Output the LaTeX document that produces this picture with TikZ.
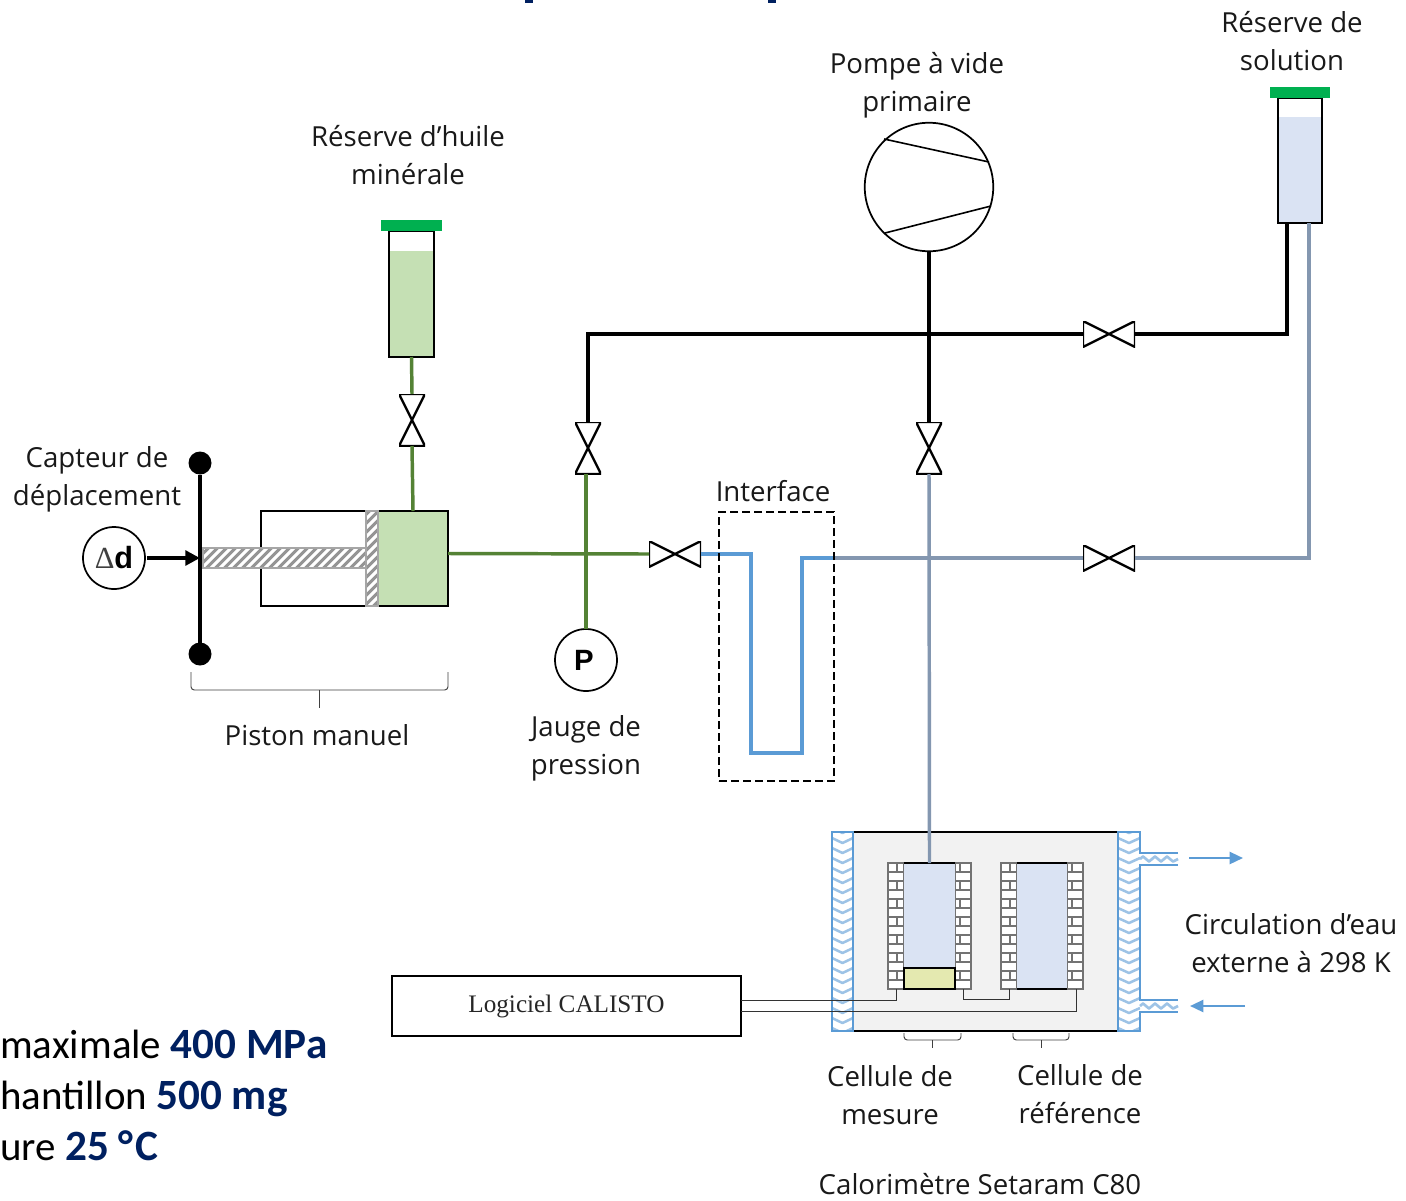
\documentclass[tikz,border=0pt]{standalone}
\usepackage{fontspec}
\setmainfont{Open Sans}
\newfontfamily\carl{Carlito}
\newfontfamily\serifl{Liberation Serif}
\newfontfamily\arial{Liberation Sans}
\usetikzlibrary{arrows.meta}
\definecolor{pipeblack}{HTML}{000000}
\definecolor{pipegreen}{HTML}{548235}
\definecolor{pipegrey}{HTML}{8497B0}
\definecolor{pipeblue}{HTML}{5B9BD5}
\definecolor{oilgreen}{HTML}{C5E0B4}
\definecolor{capgreen}{HTML}{00B050}
\definecolor{solblue}{HTML}{DAE3F3}
\definecolor{samplegreen}{HTML}{E4E9B0}
\definecolor{waveblue}{HTML}{9DC3E6}
\definecolor{navy}{HTML}{002060}
\tikzset{
  box/.style 2 args={shape=rectangle,minimum width=#1*0.75pt,minimum height=#2*0.75pt,inner sep=0pt,outer sep=0pt},
  blackpipe/.style={line width=2.8pt,draw=pipeblack},
  greenpipe/.style={line width=2.6pt,draw=pipegreen},
  greypipe/.style={line width=2.6pt,draw=pipegrey},
  bluepipe/.style={line width=2.6pt,draw=pipeblue},
  wire/.style={line width=0.6pt,draw=black!80},
  label/.style={font=\fontsize{20.7pt}{28.5pt}\selectfont,align=center,inner sep=0pt,text=black!90},
  valveh/.style={box={52}{26},path picture={
     \fill[white] (path picture bounding box.north west)--(path picture bounding box.south east)--(path picture bounding box.north east)--(path picture bounding box.south west)--cycle;
     \draw[line width=1.7pt,line join=miter] (path picture bounding box.north west)--(path picture bounding box.south east)--(path picture bounding box.north east)--(path picture bounding box.south west)--cycle;}},
  valvev/.style={box={26}{52},path picture={
     \fill[white] (path picture bounding box.north west)--(path picture bounding box.south east)--(path picture bounding box.south west)--(path picture bounding box.north east)--cycle;
     \draw[line width=1.7pt,line join=miter] (path picture bounding box.north west)--(path picture bounding box.south east)--(path picture bounding box.south west)--(path picture bounding box.north east)--cycle;}},
  hatch/.style={fill=white,draw=black!35,line width=2pt,path picture={
     \foreach \i in {-200,-191,...,200} \draw[black!42,line width=2.2pt] (\i,60)--(\i+120,-60);}},
  dot/.style={circle,fill=black,minimum size=23*0.75pt,inner sep=0pt,outer sep=0pt},
  ring/.style={circle,draw=black,fill=white,line width=1.3pt,minimum size=#1*0.75pt,inner sep=0pt,outer sep=0pt},
  brace/.style={line width=0.7pt,draw=black!75,rounded corners=2.5pt},
}
\newcommand\bricks[3]{% x0, x of the vertical joints, right edge
  \fill[white] (#1,863) rectangle (#3,989);
  \foreach \r in {0,...,13}{
    \draw[black!55,line width=1.7pt] (#1,863+9*\r)--(#3,863+9*\r);
    \ifodd\r\else\draw[black!55,line width=1.7pt] (#2,863+9*\r)--(#2,872+9*\r);\fi
  }
  \draw[black!55,line width=2.2pt] (#1,863) rectangle (#3,989);
}
\newcommand\chevrons[2]{% x0,x1
  \begin{scope}
    \clip (#1,833) rectangle (#2,1030);
    \foreach \k in {0,...,20}
      \draw[waveblue,line width=1.9pt,line join=round] (#1,828+10*\k)--({(#1+#2)/2},833+10*\k)--(#2,828+10*\k);
  \end{scope}
}
\newcommand\portwave[1]{% y centre
  \draw[waveblue,line width=2pt,line join=round] (1140,#1) foreach \k in {0,...,2} {-- (1143+12*\k,#1-2.5) -- (1149+12*\k,#1+2.5)} -- (1178,#1);
}
\newcommand\reg[1]{{\fontsize{30.7pt}{34pt}\selectfont\carl #1}}
\newcommand\hl[1]{{\fontsize{32.4pt}{34pt}\selectfont\carl\bfseries\color{navy}#1}}
\begin{document}
\begin{tikzpicture}[x=0.75pt,y=-0.75pt]
\useasboundingbox (0,0) rectangle (1406,1200);
\fill[white] (0,0) rectangle (1406,1200);
% cut-off remains of a title at the top edge
\fill[navy] (525,0) rectangle (533,3);
\fill[navy] (768,0) rectangle (776,3);

% === tanks ===
\node[box={45}{106},fill=oilgreen] (oilFill) at (411.5,304) {};
\node[box={45}{126},draw=black,line width=1.2pt] (oilTank) at (411.5,294) {};
\node[box={61}{11},fill=capgreen] (oilCap) at (411,225.5) {};
\node[box={44}{106},fill=solblue] (solFill) at (1300,170) {};
\node[box={44}{125},draw=black,line width=1.2pt] (solTank) at (1300,160.5) {};
\node[box={60}{11},fill=capgreen] (solCap) at (1300,92.5) {};

% === pump ===
\node[ring=128.5] (pump) at (929,187) {};
\draw[line width=1.2pt] (884,139)--(989,162);
\draw[line width=1.2pt] (885,233)--(991,206);

% === valves ===
\node[valvev] (vOil) at (412,420) {};
\node[valvev] (vLeft) at (588,448) {};
\node[valvev] (vCentre) at (929,448) {};
\node[valveh] (vTop) at (1109,334) {};
\node[valveh] (vSol) at (1109,558) {};
\node[valveh] (vGreen) at (675,554) {};

% === piston ===
\node[box={187}{95},draw=black,fill=white,line width=1.2pt] (cyl) at (354.5,558.5) {};
\node[box={70}{95},draw=black,fill=oilgreen,line width=1.2pt] (oilChamber) at (413,558.5) {};
\node[box={163}{20},hatch] (rod) at (284.5,558) {};
\node[box={12}{95},hatch] (plate) at (372,558.5) {};

% === displacement sensor ===
\node[dot] (dotTop) at (200,463) {};
\node[dot] (dotBot) at (200,654) {};
\draw[line width=2.6pt] (dotTop)--(dotBot);
\coordinate (barHit) at (200,558);
\node[ring=62] (dd) at (114,558) {\fontsize{23pt}{24pt}\selectfont{\serifl\textcolor{black!75}{Δ}}{\arial\bfseries d}};
\draw[line width=3.2pt,-{Triangle[length=11pt,width=11pt]}] (dd.east)++(2,0)--(barHit);

% === gauge ===
\node[ring=62] (gauge) at (586,660) {\fontsize{22pt}{24pt}\selectfont\arial\bfseries\hspace*{-3pt}P};

% === junctions ===
\coordinate (jTop) at (929,334);
\coordinate (jLeftCorner) at (588,334);
\coordinate (jRightCorner) at (1287,334);
\coordinate (solOutA) at (1287,223);
\coordinate (solOutB) at (1309,223);
\coordinate (jSolCorner) at (1309,558);
\coordinate (pistonOut) at (448,553.5);
\coordinate (jGreen) at (586,554);
\coordinate (uA) at (802,558);
\coordinate (uB) at (802,753);
\coordinate (uC) at (751,753);
\coordinate (uD) at (751,554);
\coordinate (uExit) at (835,558);
\coordinate (oilTop) at (413,511);

% === black lines ===
\draw[blackpipe] (pump.south)--(vCentre.north);
\draw[blackpipe,line join=miter] (jTop)--(jLeftCorner)--(vLeft.north);
\draw[blackpipe] (jTop)--(vTop.west);
\draw[blackpipe,line join=miter] (vTop.east)--(jRightCorner)--(solOutA);

% === green lines ===
\draw[greenpipe] (oilTank.south)--(vOil.north);
\draw[greenpipe] (vOil.south)--(oilTop);
\draw[greenpipe] (pistonOut)--(vGreen.west);
\draw[greenpipe] (vLeft.south -| gauge.north)--(gauge.north);

% === grey-blue lines ===
\draw[greypipe,line join=miter] (solOutB)--(jSolCorner)--(vSol.east);
\draw[greypipe] (vSol.west)--(uExit);

% === U tube ===
\draw[bluepipe,line join=miter] (uExit)--(uA)--(uB)--(uC)--(uD)--(vGreen.east);

% === interface ===
\node[box={115}{269},draw=black,line width=1.2pt,dash pattern=on 6pt off 3pt] (iface) at (776.5,646.5) {};

% === calorimeter ===
\node[box={265}{199},fill=black!5] (calo) at (985.5,931.5) {};
\draw[line width=1.6pt] (calo.north west)--(calo.north east);
\draw[line width=1.6pt] (calo.south west)--(calo.south east);
\fill[white] (832,832) rectangle (853,1031);
\chevrons{832}{853}
\draw[pipeblue,line width=2pt] (832,832) rectangle (853,1031);
\fill[white] (1118,832)--(1140,832)--(1140,853)--(1178,853)--(1178,865)--(1140,865)--(1140,1000)--(1178,1000)--(1178,1012)--(1140,1012)--(1140,1031)--(1118,1031)--cycle;
\chevrons{1118}{1140}
\portwave{859}
\portwave{1006}
\draw[pipeblue,line width=2pt] (1178,853)--(1140,853)--(1140,832)--(1118,832)--(1118,1031)--(1140,1031)--(1140,1012)--(1178,1012);
\draw[pipeblue,line width=2pt] (1178,865)--(1140,865)--(1140,1000)--(1178,1000);

\bricks{888}{897}{904}
\bricks{955}{960}{971}
\bricks{1001}{1010}{1017}
\bricks{1067}{1072}{1083}
\node[box={51}{126},fill=solblue] (cellM) at (929.5,926) {};
\draw[line width=1.6pt] (cellM.north west)--(cellM.north east);
\node[box={51}{21},draw=black,fill=samplegreen,line width=1.8pt] (sample) at (929.5,978.5) {};
\node[box={50}{126},fill=solblue] (cellR) at (1042,926) {};
\draw[line width=1.6pt] (cellR.north west)--(cellR.north east);
\draw[line width=1.6pt] (cellR.south west)--(cellR.south east);
\draw[greypipe] (vCentre.south)--(cellM.north);

% === software box and wires ===
\node[box={349}{60},draw=black,fill=white,line width=1.5pt,font=\fontsize{18.9pt}{24pt}\selectfont\serifl,text=black!85] (soft) at (566.5,1006) {Logiciel CALISTO};
\coordinate (softA) at (741,1000);
\coordinate (softB) at (741,1011);
\coordinate (wA) at (896,989);
\coordinate (wB) at (1076,989);
\coordinate (wC) at (963,989);
\coordinate (wD) at (1009,989);
\draw[wire] (softA)-|(wA);
\draw[wire] (softB)-|(wB);
\draw[wire] (wC)--(963,999)--(1009,999)--(wD);

% === braces ===
\draw[brace] (191,672)--(191,690)--(448,690)--(448,672);
\draw[line width=0.7pt,draw=black!75] (319,690)--(319,708);
\draw[brace] (904,1033)--(904,1040)--(961,1040)--(961,1033);
\draw[line width=0.7pt,draw=black!75] (932,1040)--(932,1048);
\draw[brace] (1013,1033)--(1013,1040)--(1069,1040)--(1069,1033);
\draw[line width=0.7pt,draw=black!75] (1041,1040)--(1041,1048);

% === water arrows ===
\coordinate (wOutA) at (1189,858);
\coordinate (wOutB) at (1243,858);
\coordinate (wInA) at (1245,1006);
\coordinate (wInB) at (1190,1006);
\draw[pipeblue,line width=1.7pt,-{Triangle[length=10pt,width=9pt]}] (wOutA)--(wOutB);
\draw[pipeblue,line width=1.7pt,-{Triangle[length=10pt,width=9pt]}] (wInA)--(wInB);

% === labels ===
\node[label] (lOil) at (408,155) {Réserve d’huile\\minérale};
\node[label] (lPump) at (917,85.5) {Pompe à vide\\primaire};
\node[label] (lSol) at (1292,41) {Réserve de\\solution};
\node[label] (lCapt) at (97,479.5) {Capteur de\\déplacement};
\node[label] (lPist) at (317,735) {Piston manuel};
\node[label] (lJauge) at (586,748) {Jauge de\\pression};
\node[label] (lIface) at (773,491) {Interface};
\node[label] (lCirc) at (1291,943) {Circulation d’eau\\externe à 298 K};
\node[label] (lMes) at (890,1095) {Cellule de\\mesure};
\node[label] (lRef) at (1080,1094) {Cellule de\\référence};
\node[label] (lCal) at (980,1184) {Calorimètre Setaram C80};

% === bottom-left text, cut by the picture edge ===
\node[anchor=base west,inner sep=0pt] (t1) at (0,1058) {\reg{maximale }\hl{400 MPa}};
\node[anchor=base west,inner sep=0pt] (t2) at (0,1109) {\reg{hantillon }\hl{500 mg}};
\node[anchor=base west,inner sep=0pt] (t3) at (0,1160) {\reg{ure }\hl{25 °\kern1.5pt C}};
\end{tikzpicture}
\end{document}
